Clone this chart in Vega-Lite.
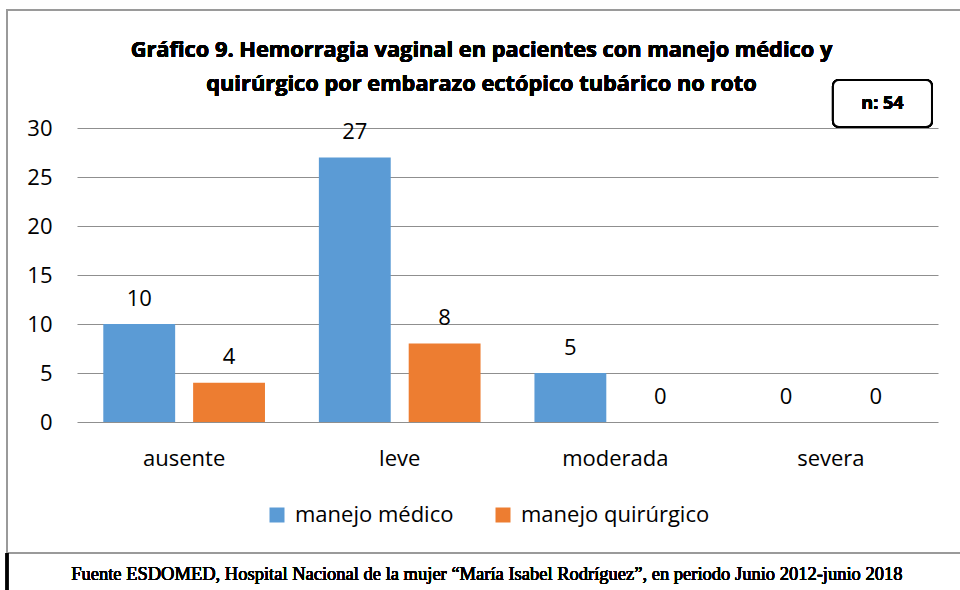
{
  "$schema": "https://vega.github.io/schema/vega-lite/v6.json",
  "width": 861,
  "height": 294,
  "autosize": {"type": "none"},
  "padding": {"left": 77, "top": 128, "right": 22, "bottom": 168},
  "background": "white",
  "config": {"view": {"stroke": null}, "font": "Open Sans"},
  "data": {
    "values": [
      {"cat": "ausente", "serie": "manejo médico", "n": 10},
      {"cat": "ausente", "serie": "manejo quirúrgico", "n": 4},
      {"cat": "leve", "serie": "manejo médico", "n": 27},
      {"cat": "leve", "serie": "manejo quirúrgico", "n": 8},
      {"cat": "moderada", "serie": "manejo médico", "n": 5},
      {"cat": "moderada", "serie": "manejo quirúrgico", "n": 0},
      {"cat": "severa", "serie": "manejo médico", "n": 0},
      {"cat": "severa", "serie": "manejo quirúrgico", "n": 0}
    ]
  },
  "resolve": {"scale": {"x": "independent"}},
  "layer": [
    {
      "encoding": {
        "x": {
          "field": "cat", "type": "nominal", "sort": ["ausente", "leve", "moderada", "severa"],
          "scale": {"paddingInner": 0.25, "paddingOuter": 0.122},
          "axis": {"title": null, "domain": false, "ticks": false, "tickSize": 0, "grid": false, "labelAngle": 0,
                   "labelFontSize": 22, "labelColor": "black", "labelBaseline": "alphabetic", "labelPadding": 43, "labelFont": "Open Sans"}
        },
        "xOffset": {"field": "serie", "type": "nominal", "scale": {"paddingInner": 0.2, "paddingOuter": 0}},
        "y": {
          "field": "n", "type": "quantitative",
          "scale": {"domain": [0, 30], "nice": false, "zero": true},
          "axis": {"title": null, "values": [0, 5, 10, 15, 20, 25, 30], "domain": false, "ticks": false, "tickSize": 0,
                   "grid": true, "gridColor": "#8f8f8f", "gridWidth": 1, "gridOpacity": 1,
                   "labelFontSize": 22, "labelColor": "black", "labelPadding": 25, "labelFont": "Open Sans"}
        }
      },
      "layer": [
        {
          "mark": {"type": "bar"},
          "encoding": {
            "color": {
              "field": "serie", "type": "nominal",
              "scale": {"domain": ["manejo médico", "manejo quirúrgico"], "range": ["#5B9BD5", "#ED7D31"]},
              "legend": {
                "title": null, "orient": "none", "direction": "horizontal", "legendX": 189, "legendY": 376,
                "symbolType": "square", "symbolSize": 225, "symbolStrokeWidth": 0, "labelFontSize": 22, "labelColor": "black",
                "labelFont": "Open Sans", "labelOffset": 7, "columnPadding": 38, "padding": 0, "labelLimit": 0
              }
            }
          }
        },
        {
          "mark": {"type": "text", "baseline": "alphabetic", "dy": -18.5, "fontSize": 22, "color": "black", "font": "Open Sans"},
          "encoding": {"text": {"field": "n", "type": "quantitative"}}
        }
      ]
    },
    {
      "encoding": {},
      "layer": [
        {
          "mark": {"type": "rect", "fill": "transparent", "stroke": "#9a9a9a", "strokeWidth": 1.5},
          "encoding": {
            "x": {"datum": -0.0813, "type": "quantitative", "scale": {"domain": [0, 1], "nice": false, "zero": false}, "axis": null},
            "x2": {"datum": 1.04},
            "y": {"datum": 42.04, "type": "quantitative"},
            "y2": {"datum": -13.37}
          }
        },
        {
          "mark": {"type": "rule", "stroke": "black", "strokeWidth": 2.5},
          "encoding": {
            "x": {"datum": -0.0813, "type": "quantitative"},
            "y": {"datum": -13.37, "type": "quantitative"},
            "y2": {"datum": -17.5}
          }
        },
        {
          "mark": {"type": "rect", "fill": "white", "stroke": "black", "strokeWidth": 2, "cornerRadius": 6},
          "encoding": {
            "x": {"datum": 0.878, "type": "quantitative"},
            "x2": {"datum": 0.993},
            "y": {"datum": 34.9, "type": "quantitative"},
            "y2": {"datum": 30.1}
          }
        },
        {
          "mark": {"type": "text", "text": "n: 54", "fontWeight": "bold", "fontSize": 18, "font": "Open Sans", "color": "black", "baseline": "middle", "align": "center"},
          "encoding": {
            "x": {"datum": 0.9355, "type": "quantitative"},
            "y": {"datum": 32.45, "type": "quantitative"}
          }
        },
        {
          "mark": {"type": "text", "text": ["Gráfico 9. Hemorragia vaginal en pacientes con manejo médico y", "quirúrgico por embarazo ectópico tubárico no roto"],
                   "fontWeight": "bold", "fontSize": 21.8, "font": "Open Sans", "color": "black", "baseline": "alphabetic", "align": "center", "lineHeight": 33.5},
          "encoding": {
            "x": {"datum": 0.4698, "type": "quantitative"},
            "y": {"datum": 37.2, "type": "quantitative"}
          }
        },
        {
          "mark": {"type": "text", "text": "Fuente ESDOMED, Hospital Nacional de la mujer “María Isabel Rodríguez”, en periodo Junio 2012-junio 2018", "fontSize": 18.5, "fontWeight": "normal", "font": "Liberation Serif", "color": "black", "baseline": "alphabetic", "align": "center"},
          "encoding": {
            "x": {"datum": 0.476, "type": "quantitative"},
            "y": {"datum": -16.12, "type": "quantitative"}
          }
        }
      ]
    }
  ]
}
